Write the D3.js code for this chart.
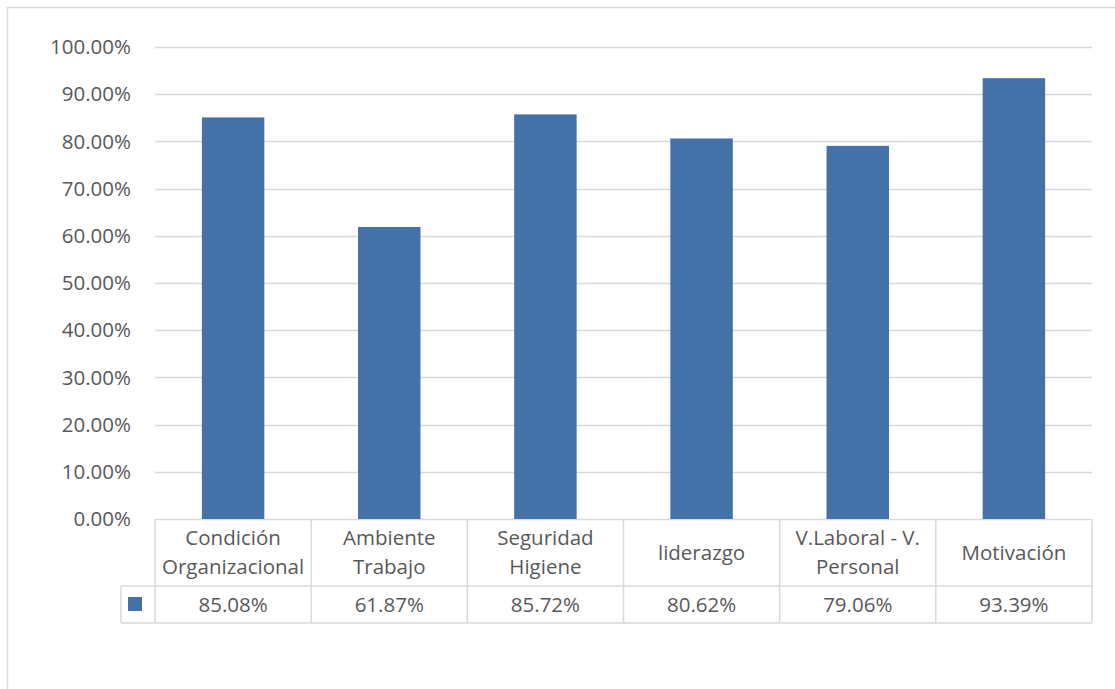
<!DOCTYPE html>
<html>
<head>
<meta charset="utf-8">
<script src="https://cdn.jsdelivr.net/npm/d3@7"></script>
<style>
  html, body { margin: 0; padding: 0; background: #fff; }
  svg { display: block; }
  text { font-family: "Open Sans", Lato, sans-serif; fill: #595959; }
</style>
</head>
<body>
<script>
// Category names (line breaks mark where the table cell wraps)
const categories = [
  "Condición\nOrganizacional",
  "Ambiente\nTrabajo",
  "Seguridad\nHigiene",
  "liderazgo",
  "V.Laboral - V.\nPersonal",
  "Motivación"
];
// Percentage per category
const values = [85.08, 61.87, 85.72, 80.62, 79.06, 93.39];
// Y axis ticks
const yTicks = [0, 10, 20, 30, 40, 50, 60, 70, 80, 90, 100];

const W = 1115, H = 689;
const plotLeft = 155, plotRight = 1092, plotTop = 47, plotBottom = 519;
const row1 = 586, row2 = 623, legendLeft = 121;
const gridColor = "#d9d9d9";
const barColor = "#4472a8";
const fontSize = 20.5;

const svg = d3.select("body").append("svg")
  .attr("width", W).attr("height", H);

// chart frame
svg.append("rect")
  .attr("x", 7.5).attr("y", 7.5)
  .attr("width", W + 20).attr("height", H + 20)
  .attr("fill", "none").attr("stroke", gridColor).attr("stroke-width", 1.5);

const x = d3.scaleBand()
  .domain(categories)
  .range([plotLeft, plotRight])
  .paddingInner(0.6)
  .paddingOuter(0.3);

const y = d3.scaleLinear().domain([0, 100]).range([plotBottom, plotTop]);

// gridlines
svg.append("g").selectAll("line")
  .data(yTicks)
  .join("line")
  .attr("x1", plotLeft).attr("x2", plotRight)
  .attr("y1", d => Math.round(y(d)) + 0.5).attr("y2", d => Math.round(y(d)) + 0.5)
  .attr("stroke", gridColor).attr("stroke-width", 1.5);

// y tick labels
svg.append("g").selectAll("text")
  .data(yTicks)
  .join("text")
  .attr("x", plotLeft - 24)
  .attr("y", d => y(d))
  .attr("dy", "0.35em")
  .attr("text-anchor", "end")
  .attr("font-size", fontSize)
  .text(d => d.toFixed(2) + "%");

// bars
svg.append("g").selectAll("rect")
  .data(values)
  .join("rect")
  .attr("x", (d, i) => x(categories[i]))
  .attr("width", x.bandwidth())
  .attr("y", d => y(d))
  .attr("height", d => y(0) - y(d))
  .attr("fill", barColor);

// data table
const step = x.step();
const edges = d3.range(categories.length + 1).map(i => plotLeft + i * step);
const tbl = svg.append("g").attr("stroke", gridColor).attr("stroke-width", 1.5);
edges.forEach(e => {
  tbl.append("line").attr("x1", e).attr("x2", e).attr("y1", plotBottom).attr("y2", row2);
});
tbl.append("line").attr("x1", legendLeft).attr("x2", legendLeft).attr("y1", row1).attr("y2", row2);
tbl.append("line").attr("x1", legendLeft).attr("x2", plotRight).attr("y1", row1).attr("y2", row1);
tbl.append("line").attr("x1", legendLeft).attr("x2", plotRight).attr("y1", row2).attr("y2", row2);

// legend key
svg.append("rect")
  .attr("x", 128).attr("y", 597)
  .attr("width", 14).attr("height", 14)
  .attr("fill", barColor);

// category names
const lineH = 29;
categories.forEach((c, i) => {
  const lines = c.split("\n");
  const cx = x(c) + x.bandwidth() / 2;
  const cy = (plotBottom + row1) / 2;
  const t = svg.append("text")
    .attr("text-anchor", "middle")
    .attr("font-size", fontSize);
  lines.forEach((l, j) => {
    t.append("tspan")
      .attr("x", cx)
      .attr("y", cy + (j - (lines.length - 1) / 2) * lineH)
      .attr("dy", "0.35em")
      .text(l);
  });
});

// value row
svg.append("g").selectAll("text")
  .data(values)
  .join("text")
  .attr("x", (d, i) => x(categories[i]) + x.bandwidth() / 2)
  .attr("y", (row1 + row2) / 2)
  .attr("dy", "0.35em")
  .attr("text-anchor", "middle")
  .attr("font-size", fontSize)
  .text(d => d.toFixed(2) + "%");
</script>
</body>
</html>
